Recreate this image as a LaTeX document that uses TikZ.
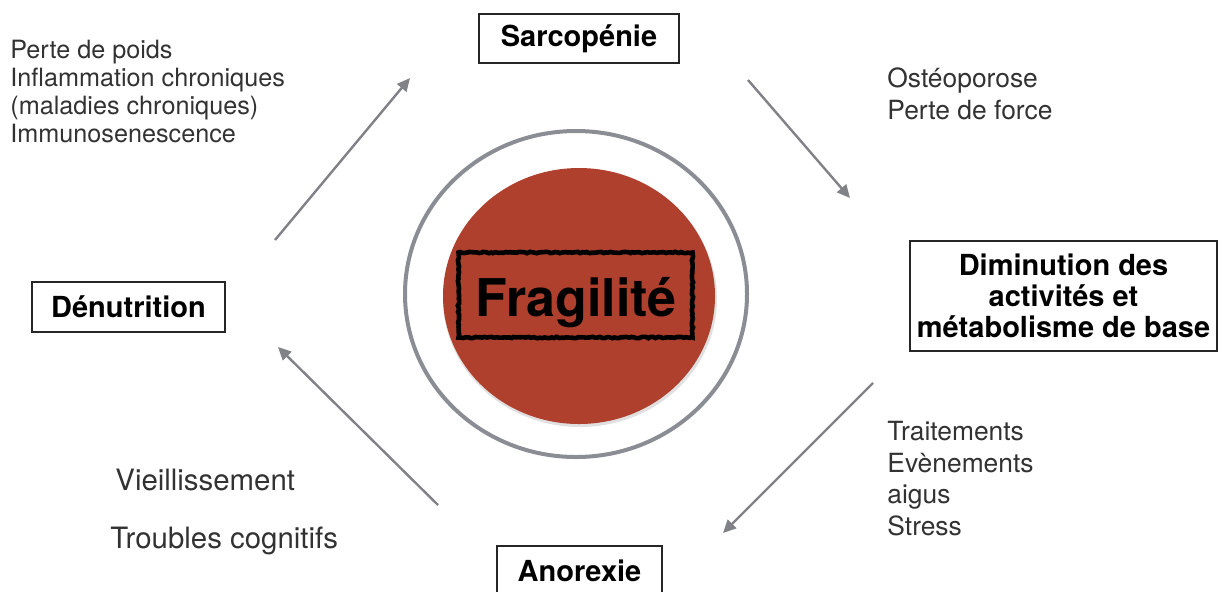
\documentclass[tikz,border=0pt]{standalone}
\usepackage{fontspec}
\setmainfont{TeX Gyre Heros}
\usetikzlibrary{arrows.meta,decorations.pathmorphing}
\definecolor{ringgray}{RGB}{138,141,147}
\definecolor{arrowgray}{RGB}{128,130,135}
\definecolor{fragred}{RGB}{176,64,46}
\definecolor{labelgray}{RGB}{50,50,50}
\begin{document}
\begin{tikzpicture}[x=0.5pt,y=-0.5pt,
  box/.style={draw=black!85, line width=0.7pt, fill=white, inner sep=0pt, align=center,
    font=\fontsize{14.5}{15.5}\selectfont\bfseries},
  lbl/.style={anchor=base west, text=labelgray, inner sep=0pt},
  small/.style={font=\fontsize{12.6}{14}\selectfont},
  mid/.style={font=\fontsize{13.2}{16}\selectfont},
  big/.style={font=\fontsize{14.7}{16}\selectfont},
  arr/.style={draw=arrowgray, line width=1.2pt, -{Triangle[length=6.5pt,width=6pt]}},
]
\useasboundingbox (0,0) rectangle (1219,591);
\begin{scope}
\clip (0,0) rectangle (1219,591);

% central disc and ring
\draw[ringgray, line width=2pt] (576,294) ellipse [x radius=171, y radius=163];
\fill[black, opacity=0.12] (580,299) ellipse [x radius=137, y radius=128];
\fill[fragred] (579,296) ellipse [x radius=136, y radius=128];
\node[draw=black, line width=2.3pt, minimum width=117pt, minimum height=42.5pt, inner sep=0pt,
  decorate, decoration={random steps, segment length=1.2pt, amplitude=0.35pt}] (stamp) at (575.5,295) {};
\node[anchor=base, inner sep=0pt, font=\fontsize{26}{28}\selectfont\bfseries] (frag) at (576,316) {Fragilité};

% boxes
\node[box, minimum width=100pt, minimum height=24.5pt] (sarc) at (579,38.5) {Sarcopénie};
\node[box, minimum width=96.5pt, minimum height=25pt] (denu) at (128.5,307) {Dénutrition};
\node[box, minimum width=153.5pt, minimum height=55pt] (dimi) at (1063.5,296) {Diminution des\\activités et\\métabolisme de base};
\node[box, minimum width=82.5pt, minimum height=24.5pt] (anor) at (579.5,570.5) {Anorexie};

% arrows
\coordinate (a1s) at (275,240); \coordinate (a1e) at (410,78);
\coordinate (a2s) at (748,80);  \coordinate (a2e) at (850,198);
\coordinate (a3s) at (873,383); \coordinate (a3e) at (723,533);
\coordinate (a4s) at (438,505); \coordinate (a4e) at (278,347);
\draw[arr] (a1s) -- (a1e);
\draw[arr] (a2s) -- (a2e);
\draw[arr] (a3s) -- (a3e);
\draw[arr] (a4s) -- (a4e);

% labels
\node[lbl, small] (l1) at (10,58) {Perte de poids};
\node[lbl, small] (l2) at (10,86) {Inflammation chroniques};
\node[lbl, small] (l3) at (10,114) {(maladies chroniques)};
\node[lbl, small] (l4) at (10,142) {Immunosenescence};

\node[lbl, mid] (r1) at (887,87) {Ostéoporose};
\node[lbl, mid] (r2) at (887,119) {Perte de force};

\node[lbl, mid] (t1) at (887,440) {Traitements};
\node[lbl, mid] (t2) at (887,472) {Evènements};
\node[lbl, mid] (t3) at (887,503) {aigus};
\node[lbl, mid] (t4) at (887,535) {Stress};

\node[lbl, big] (v1) at (115,490) {Vieillissement};
\node[lbl, big] (v2) at (110,548) {Troubles cognitifs};
\end{scope}
\end{tikzpicture}
\end{document}
